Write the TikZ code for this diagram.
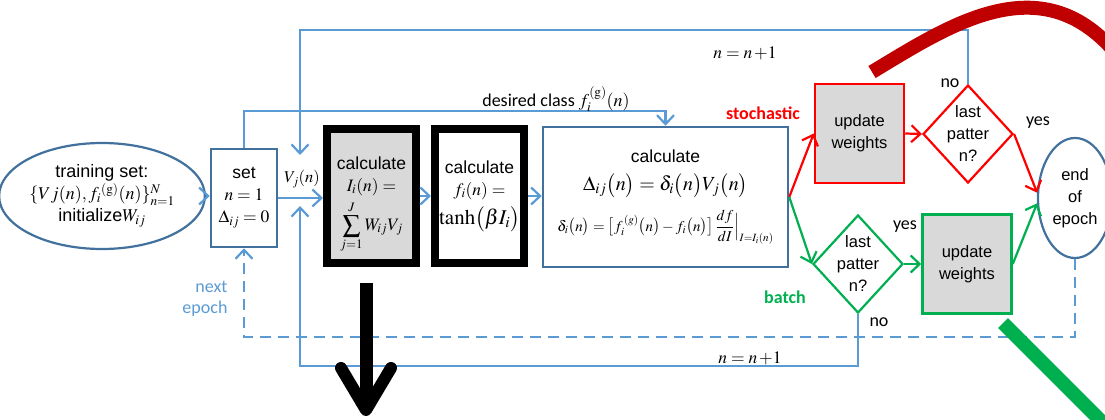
\documentclass[tikz,border=0pt]{standalone}
\usepackage{amsmath}
\usepackage{mathptmx}
\usepackage[no-math]{fontspec}
\setmainfont{Liberation Sans}
\newfontfamily\carlito{Carlito}
\usetikzlibrary{shapes.geometric,arrows.meta,calc}
\definecolor{lblue}{HTML}{5B9BD5}
\definecolor{dblue}{HTML}{41719C}
\definecolor{fgray}{HTML}{D9D9D9}
\definecolor{myred}{HTML}{FF0000}
\definecolor{mygreen}{HTML}{00B050}
\definecolor{dred}{HTML}{C00000}
\begin{document}
\begin{tikzpicture}[x=1pt,y=-1pt,
  font=\fontsize{17.5}{22}\selectfont,
  conn/.style={draw=lblue,line width=2.2,-{Straight Barb[length=9,width=17]}},
  rconn/.style={draw=myred,line width=2.2,-{Straight Barb[length=9,width=17]}},
  gconn/.style={draw=mygreen,line width=2.2,-{Straight Barb[length=9,width=17]}},
  dbox/.style={draw=dblue,line width=2.5,inner sep=0,align=center},
  kbox/.style={draw=black,line width=8,minimum width=89,minimum height=134,inner sep=0,align=center},
  wbox/.style={line width=2.5,fill=fgray,minimum width=89,minimum height=99,inner sep=0,align=center,font=\fontsize{16.5}{22}\selectfont},
  dia/.style={diamond,line width=2.2,minimum width=90,minimum height=98,inner sep=0,fill=white},
  lbl/.style={font=\carlito\fontsize{18}{21}\selectfont},
  blbl/.style={font=\carlito\bfseries\fontsize{18}{21}\selectfont},
]
\useasboundingbox (0,0) rectangle (1105,420);
\clip (0,0) rectangle (1105,420);

% nodes
\node[ellipse,draw=dblue,line width=2.2,minimum width=190,minimum height=106,inner sep=0,align=center] (train) at (102,196)
  {\fontsize{18}{22}\selectfont training set:\\ \fontsize{18}{22}\selectfont$\{Vj(n),f_i{}^{(\mathrm{g})}(n)\}_{n=1}^{N}$\\ \fontsize{18}{22}\selectfont initialize$W_{ij}$};
\node[dbox,minimum width=66,minimum height=98] (set) at (244,198)
  {set\\ $n=1$\\ $\Delta_{ij}=0$};
\node[kbox,fill=fgray] (calc1) at (371.5,196)
  {\rule{0pt}{30pt}calculate\\[0pt] $I_i(n)=$\\[5pt] $\displaystyle\sum_{j=1}^{J}W_{ij}V_j$};
\node[kbox,fill=white] (calc2) at (479.5,196)
  {calculate\\[0pt] $f_i(n)=$\\[6pt] \fontsize{21}{22}\selectfont$\tanh\bigl(\beta I_i\bigr)$};
\node[dbox,minimum width=245,minimum height=140] (box3) at (665.5,197)
  {calculate\\[6pt]
   \fontsize{20}{22}\selectfont$\Delta_{ij}\bigl(n\bigr)=\delta_i\bigl(n\bigr)V_j\bigl(n\bigr)$\\[12pt]
   \fontsize{15}{18}\selectfont$\delta_i\bigl(n\bigr)=\bigl[f_i^{\,(g)}\bigl(n\bigr)-f_i\bigl(n\bigr)\bigr]\,\displaystyle\frac{df}{dI}\Big|_{I=I_i(n)}$};
\node[wbox,draw=myred] (upw1) at (859.5,133.5) {update\\weights};
\node[dia,draw=myred] (d1) at (968,134) {};
\node[align=center,font=\fontsize{16.5}{22}\selectfont] (d1t) at (d1) {last\\patter\\n?};
\node[dia,draw=mygreen] (d2) at (858,264) {};
\node[align=center,font=\fontsize{16.5}{22}\selectfont] (d2t) at (d2) {last\\patter\\n?};
\node[wbox,draw=mygreen] (upw2) at (967,264) {update\\weights};
\node[ellipse,draw=dblue,line width=2.2,minimum width=74,minimum height=120,inner sep=0,align=center,font=\fontsize{16.5}{22}\selectfont] (eoe) at (1075,198)
  {end\\of\\epoch};

% coordinates
\coordinate (topL) at (300,30);
\coordinate (vjtop) at (300,155);
\coordinate (botL) at (300,366);
\coordinate (vjbot) at (300,206);

% connectors
\draw[conn] (train.east) -- (train.east -| set.west);
\draw[conn] (set.east) -- (set.east -| calc1.west);
\draw[conn] (calc1.east) -- (calc1.east -| calc2.west);
\draw[conn] (calc2.east) -- (calc2.east -| box3.west);
\draw[conn] (d1.north) |- (topL) -- (vjtop);
\draw[conn] (d2.south) |- (botL) -- (vjbot);
\draw[conn] (set.north) -- ++(0,-37) -| (box3.north);
\draw[conn,dash pattern=on 11pt off 7pt] (eoe.south) -- ++(0,78) -| (set.south);
\draw[rconn] (box3.east) -- (upw1.west);
\draw[rconn] (upw1.east) -- (d1.west);
\draw[rconn] (d1.east) -- (eoe.172);
\draw[gconn] (box3.east) -- (d2.west);
\draw[gconn] (d2.east) -- (upw2.west);
\draw[gconn] (upw2.east) -- (eoe.188);

% labels
\node (vjl) at (302,179) {\fontsize{16.5}{20}\selectfont$V_j(n)$};
\node (nn1) at (745,53) {$n=n\,{+}1$};
\node (nn2) at (750,358) {$n=n\,{+}1$};
\node[lbl] (dcl) at (556,99) {desired class $f_i^{(\mathrm{g})}(n)$};
\node[blbl,text=myred] (sto) at (763,113) {stochastic};
\node[blbl,text=mygreen] (bat) at (785,297) {batch};
\node[lbl] (no1) at (950,83) {no};
\node[lbl] (yes1) at (1038,123) {yes};
\node[lbl] (yes2) at (905,227) {yes};
\node[lbl] (no2) at (879,322) {no};
\node[lbl,text=lblue,align=right,anchor=east] (nxt) at (231,299) {next\\epoch};

% thick strokes
\coordinate (bkTop) at (366,283);
\coordinate (bkTip) at (366,410);
\draw[line width=13] (bkTop) -- ($(bkTip)+(0,-6)$);
\draw[line width=12,line cap=round,line join=round] (341,368) -- (bkTip) -- (391,368);
\coordinate (rs) at (872,72);
\coordinate (re) at (1115,52);
\draw[dred,line width=14] (rs) .. controls (950,25) and (1040,-35) .. (re);
\coordinate (gs) at (1003,323);
\coordinate (ge) at (1115,435);
\draw[mygreen,line width=14] (gs) -- (ge);
\end{tikzpicture}
\end{document}
